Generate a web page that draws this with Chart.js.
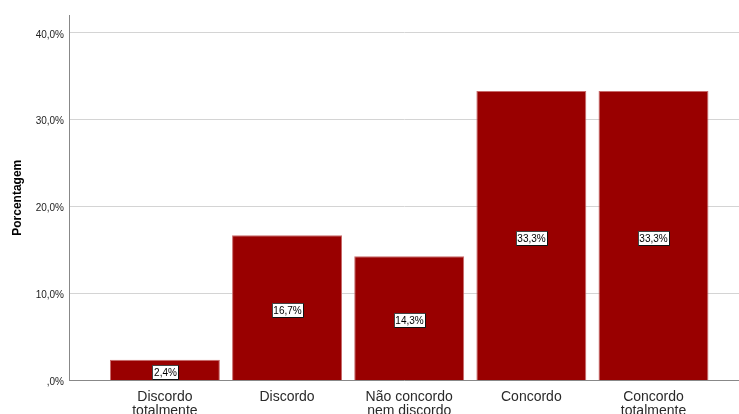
<!DOCTYPE html>
<html>
<head>
<meta charset="utf-8">
<script src="https://cdn.jsdelivr.net/npm/chart.js@4/dist/chart.umd.min.js"></script>
<style>
  html, body { margin: 0; padding: 0; background: #fff; }
  #wrap { width: 739px; height: 414px; }
</style>
</head>
<body>
<div id="wrap"><canvas id="chart" width="739" height="414"></canvas></div>
<script>
const categories = [
  ['Discordo', 'totalmente'],
  ['Discordo'],
  ['Não concordo', 'nem discordo'],
  ['Concordo'],
  ['Concordo', 'totalmente']
];
const percentages = [2.4, 16.7, 14.3, 33.3, 33.3];
const yTicks = [0, 10, 20, 30, 40];

const fmtPct = (v) => (v === 0 ? ',0' : v.toFixed(1).replace('.', ',')) + '%';

// white boxed value labels centred inside each bar
const barLabels = {
  id: 'barLabels',
  afterDatasetsDraw(chart) {
    const ctx = chart.ctx;
    const meta = chart.getDatasetMeta(0);
    ctx.save();
    ctx.font = '10px Arial, "Liberation Sans", sans-serif';
    ctx.textAlign = 'center';
    ctx.textBaseline = 'middle';
    meta.data.forEach((bar, i) => {
      const text = fmtPct(percentages[i]);
      const w = Math.round(ctx.measureText(text).width + 3);
      const h = 14;
      const cx = Math.round(bar.x);
      const cy = Math.round((bar.y + bar.base) / 2) + 2;
      const x0 = Math.round(cx - w / 2) + 0.5;
      const y0 = Math.round(cy - h / 2) + 0.5;
      ctx.fillStyle = '#ffffff';
      ctx.fillRect(x0, y0, w, h);
      ctx.strokeStyle = '#444444';
      ctx.lineWidth = 1;
      ctx.strokeRect(x0, y0, w, h);
      // darker edge on right and bottom
      ctx.strokeStyle = '#111111';
      ctx.beginPath();
      ctx.moveTo(x0 + w, y0);
      ctx.lineTo(x0 + w, y0 + h);
      ctx.lineTo(x0, y0 + h);
      ctx.stroke();
      ctx.fillStyle = '#000000';
      ctx.fillText(text, cx + 0.5, cy + 1);
    });
    ctx.restore();
  }
};

new Chart(document.getElementById('chart'), {
  type: 'bar',
  data: {
    datasets: [{
      data: percentages.map((v, i) => ({ x: i, y: v })),
      backgroundColor: '#990000',
      borderColor: '#c86a6a',
      borderWidth: { top: 1, left: 1, right: 1, bottom: 0 },
      barPercentage: 0.9,
      categoryPercentage: 1
    }]
  },
  options: {
    responsive: false,
    animation: false,
    layout: { padding: { top: 15, right: 0, left: 0, bottom: 0 } },
    plugins: {
      legend: { display: false },
      tooltip: { enabled: false }
    },
    scales: {
      x: {
        type: 'linear',
        offset: false,
        min: -0.785,
        max: 4.7,
        afterBuildTicks: (scale) => {
          scale.ticks = categories.map((_, i) => ({ value: i }));
        },
        afterFit: (scale) => { scale.height = 33.5; },
        grid: { display: false, drawTicks: false },
        border: { display: true, color: '#888888', width: 1 },
        ticks: {
          autoSkip: false,
          maxRotation: 0,
          padding: 10,
          color: '#2a2a2a',
          font: { family: 'Arial, "Liberation Sans", sans-serif', size: 14, lineHeight: 1.0 },
          callback: (v) => categories[v]
        }
      },
      y: {
        min: 0,
        max: 42.05,
        afterBuildTicks: (scale) => {
          scale.ticks = yTicks.map((v) => ({ value: v }));
        },
        afterFit: (scale) => { scale.width = 69; },
        grid: { color: '#d4d4d4', drawTicks: false },
        border: { display: true, color: '#888888', width: 1 },
        ticks: {
          padding: 5,
          labelOffset: 2,
          color: '#222222',
          font: { family: 'Arial, "Liberation Sans", sans-serif', size: 10 },
          callback: (v) => fmtPct(v)
        },
        title: {
          display: true,
          text: 'Porcentagem',
          color: '#000000',
          padding: { top: 10, bottom: 0 },
          font: { family: 'Arial, "Liberation Sans", sans-serif', size: 12, weight: 'bold' }
        }
      }
    }
  },
  plugins: [barLabels]
});
</script>
</body>
</html>
